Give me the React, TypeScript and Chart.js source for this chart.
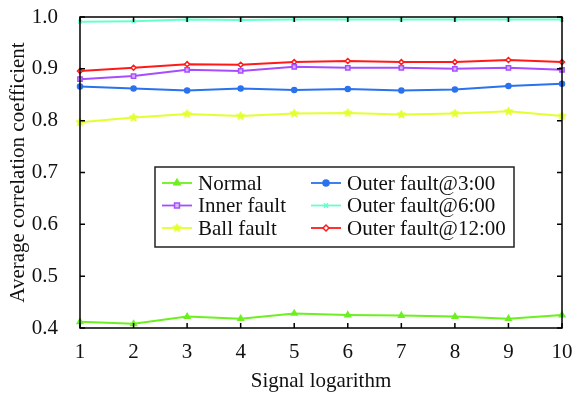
import React, { useEffect, useRef } from 'react';
import { Chart, registerables } from 'chart.js';
import { drawPoint } from 'chart.js/helpers';

Chart.register(...registerables);

const xValues = [1, 2, 3, 4, 5, 6, 7, 8, 9, 10];
const normal = [0.412, 0.408, 0.422, 0.418, 0.428, 0.425, 0.424, 0.422, 0.418, 0.425];
const innerFault = [0.880, 0.886, 0.898, 0.896, 0.904, 0.902, 0.902, 0.900, 0.902, 0.898];
const ballFault = [0.797, 0.806, 0.813, 0.809, 0.814, 0.815, 0.812, 0.814, 0.818, 0.809];
const outer3 = [0.866, 0.862, 0.858, 0.862, 0.859, 0.861, 0.858, 0.860, 0.867, 0.871];
const outer6 = [0.991, 0.992, 0.995, 0.994, 0.995, 0.995, 0.995, 0.995, 0.995, 0.995];
const outer12 = [0.896, 0.902, 0.909, 0.908, 0.913, 0.915, 0.913, 0.913, 0.917, 0.913];

const seriesNames = ['Normal', 'Inner fault', 'Ball fault', 'Outer fault@3:00', 'Outer fault@6:00', 'Outer fault@12:00'];
const seriesValues = [normal, innerFault, ballFault, outer3, outer6, outer12];
const seriesColors = ['#6cf020', '#a64dff', '#e4ff30', '#2a72ee', '#66ffcc', '#ff1a1a'];
const seriesMarkers = ['triangle', 'rect', 'star5', 'circle', 'crossRot', 'rectRot'];
const seriesMarkerSizes = [3.2, 3, 4.5, 2.5, 2.5, 2.5];

const FONT = "'Liberation Serif', 'Times New Roman', serif";

function makeStar(color: string, r: number): HTMLCanvasElement {
  const size = Math.ceil(r * 2 + 2);
  const c = document.createElement('canvas');
  c.width = size;
  c.height = size;
  const g = c.getContext('2d')!;
  const cx = size / 2;
  const cy = size / 2;
  g.beginPath();
  for (let k = 0; k < 10; k++) {
    const rad = k % 2 === 0 ? r : r * 0.45;
    const a = -Math.PI / 2 + (k * Math.PI) / 5;
    const px = cx + rad * Math.cos(a);
    const py = cy + rad * Math.sin(a);
    if (k === 0) g.moveTo(px, py);
    else g.lineTo(px, py);
  }
  g.closePath();
  g.fillStyle = color;
  g.fill();
  g.strokeStyle = color;
  g.lineWidth = 1;
  g.stroke();
  return c;
}

const framePlugin = {
  id: 'frame',
  afterDatasetsDraw(chart: any) {
    const { ctx, chartArea, scales } = chart;
    const { left, top, right, bottom } = chartArea;
    ctx.save();
    ctx.strokeStyle = '#000';
    ctx.lineWidth = 1.5;
    ctx.strokeRect(left, top, right - left, bottom - top);
    ctx.beginPath();
    const tl = 5;
    scales.x.ticks.forEach((t: any) => {
      const px = scales.x.getPixelForValue(t.value);
      ctx.moveTo(px, bottom);
      ctx.lineTo(px, bottom - tl);
      ctx.moveTo(px, top);
      ctx.lineTo(px, top + tl);
    });
    scales.y.ticks.forEach((t: any) => {
      const py = scales.y.getPixelForValue(t.value);
      ctx.moveTo(left, py);
      ctx.lineTo(left + tl, py);
      ctx.moveTo(right, py);
      ctx.lineTo(right - tl, py);
    });
    ctx.stroke();
    ctx.restore();
  },
};

const legendPlugin = {
  id: 'boxLegend',
  afterDraw(chart: any) {
    const { ctx, chartArea } = chart;
    const bx = chartArea.left + 75;
    const by = chartArea.top + 150;
    const bw = 359;
    const bh = 80;
    ctx.save();
    ctx.fillStyle = '#fff';
    ctx.fillRect(bx, by, bw, bh);
    ctx.strokeStyle = '#222';
    ctx.lineWidth = 1.5;
    ctx.strokeRect(bx, by, bw, bh);
    ctx.font = `21px ${FONT}`;
    ctx.textBaseline = 'middle';
    ctx.textAlign = 'left';
    const rowH = 22.5;
    const colX = [bx + 7, bx + 156];
    chart.data.datasets.forEach((ds: any, i: number) => {
      const col = Math.floor(i / 3);
      const row = i % 3;
      const y = by + 16 + row * rowH;
      const x0 = colX[col];
      const x1 = x0 + 30;
      ctx.strokeStyle = ds.borderColor;
      ctx.lineWidth = 1.8;
      ctx.beginPath();
      ctx.moveTo(x0, y);
      ctx.lineTo(x1, y);
      ctx.stroke();
      ctx.fillStyle = ds.pointBackgroundColor;
      ctx.strokeStyle = ds.borderColor;
      ctx.lineWidth = 1.5;
      drawPoint(ctx, { pointStyle: ds.pointStyle, radius: ds.pointRadius + 0.5, rotation: 0, borderWidth: 1.5 }, (x0 + x1) / 2, y);
      ctx.fillStyle = '#111';
      ctx.fillText(ds.label, x1 + 6, y + 1);
    });
    ctx.restore();
  },
};

export default function App() {
  const canvasRef = useRef<HTMLCanvasElement | null>(null);

  useEffect(() => {
    document.body.style.margin = '0';
    const canvas = canvasRef.current;
    if (!canvas) return;
    const datasets = seriesNames.map((name, i) => {
      const marker: any = seriesMarkers[i] === 'star5' ? makeStar(seriesColors[i], seriesMarkerSizes[i]) : seriesMarkers[i];
      return {
        label: name,
        data: xValues.map((x, j) => ({ x, y: seriesValues[i][j] })),
        borderColor: seriesColors[i],
        backgroundColor: seriesColors[i],
        pointBackgroundColor: i === 1 ? 'rgba(220,190,255,0.9)' : i === 5 ? '#fff' : seriesColors[i],
        pointBorderColor: seriesColors[i],
        pointStyle: marker,
        pointRadius: seriesMarkerSizes[i],
        pointBorderWidth: 1.5,
        borderWidth: 2,
        tension: 0,
        clip: false as any,
      };
    });
    const chart = new Chart(canvas, {
      type: 'line',
      data: { datasets },
      options: {
        animation: false,
        responsive: false,
        devicePixelRatio: 1,
        layout: { padding: { top: 17, right: 11, left: 0, bottom: 0 } },
        plugins: { legend: { display: false }, tooltip: { enabled: false } },
        scales: {
          x: {
            type: 'linear',
            min: 1,
            max: 10,
            grid: { display: false },
            border: { display: false },
            ticks: { stepSize: 1, color: '#111', font: { family: FONT, size: 21 }, padding: 4, maxRotation: 0 },
            title: { display: true, text: 'Signal logarithm', color: '#111', font: { family: FONT, size: 21 }, padding: { top: 0, bottom: 5 } },
            afterFit(scale: any) {
              scale.height = 71;
              scale.paddingLeft = 0;
              scale.paddingRight = 0;
            },
          },
          y: {
            type: 'linear',
            min: 0.4,
            max: 1.0,
            grid: { display: false },
            border: { display: false },
            ticks: { stepSize: 0.1, color: '#111', font: { family: FONT, size: 21 }, padding: 14, callback: (v: any) => Number(v).toFixed(1) },
            title: { display: true, text: 'Average correlation coefficient', color: '#111', font: { family: FONT, size: 21 }, padding: { top: 6, bottom: 0 } },
            afterFit(scale: any) {
              scale.width = 80;
              scale.paddingTop = 0;
              scale.paddingBottom = 0;
            },
          },
        },
      },
      plugins: [framePlugin, legendPlugin],
    });
    return () => chart.destroy();
  }, []);

  return (
    <div style={{ width: 573, height: 399, background: '#fff' }}>
      <canvas ref={canvasRef} width={573} height={399} />
    </div>
  );
}
